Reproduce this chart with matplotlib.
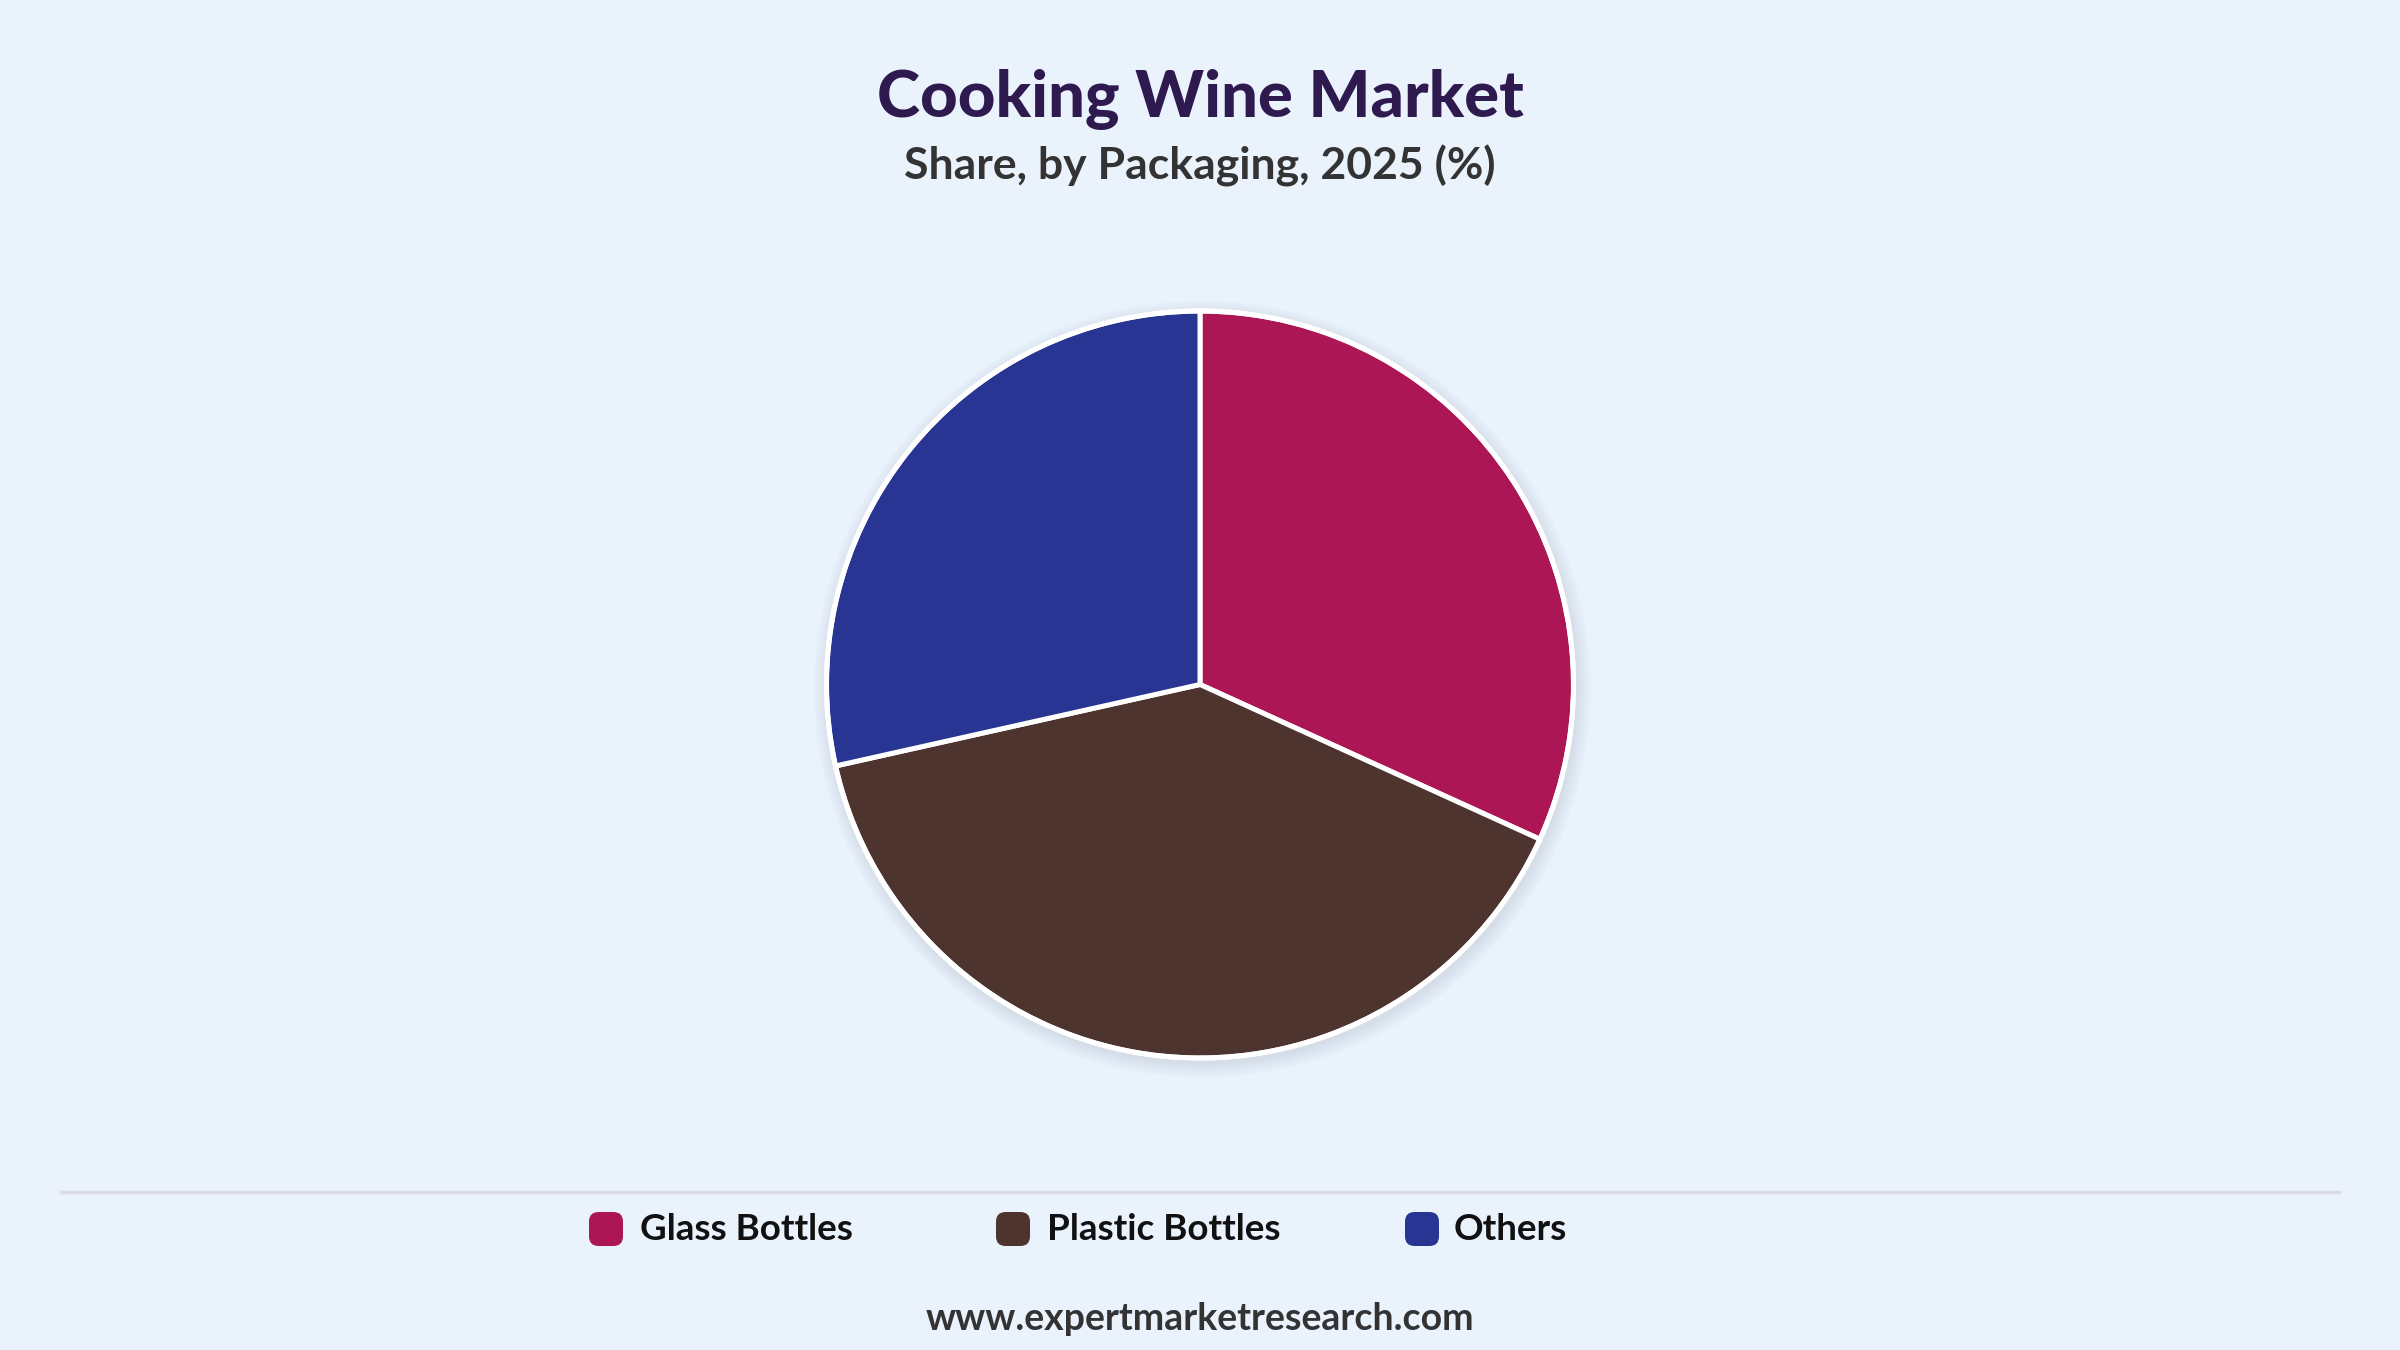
import matplotlib
matplotlib.use("Agg")
import matplotlib.pyplot as plt
from matplotlib.patches import FancyBboxPatch, Circle
from matplotlib.lines import Line2D

categories = ["Glass Bottles", "Plastic Bottles", "Others"]
shares = [31.8, 39.7, 28.5]
colors = ["#AD1655", "#4E342E", "#283593"]
title = "Cooking Wine Market"
subtitle = "Share, by Packaging, 2025 (%)"
footer = "www.expertmarketresearch.com"

BG = "#EAF2FC"
W, H = 2400, 1350
fig = plt.figure(figsize=(24, 13.5), dpi=100, facecolor=BG)

# pie axes: center (1200, 684), radius ~373 px
cx, cy, r = 1200, 684.5, 373.5
ax = fig.add_axes([(cx - r - 30) / W, 1 - (cy + r + 30) / H, (2 * r + 60) / W, (2 * r + 60) / H])
ax.set_facecolor("none")
ax.set_aspect("equal")
ax.axis("off")

# soft shadow
for i in range(10):
    ax.add_patch(Circle((0.006, -0.012), 1.0 + 0.004 * (i + 1), color="#a6b2c2",
                        alpha=0.03, lw=0, zorder=0))

ax.pie(shares, colors=colors, startangle=90, counterclock=False, radius=1.0,
       wedgeprops=dict(edgecolor="white", linewidth=3.6), normalize=True)
ax.add_patch(Circle((0, 0), 1.0, fill=False, edgecolor="white", lw=3.6, zorder=5))
ax.set_xlim(-1 - 30 / r, 1 + 30 / r)
ax.set_ylim(-1 - 30 / r, 1 + 30 / r)

fam = ["Lato", "DejaVu Sans"]
fig.text(0.5, 1 - 100 / H, title, ha="center", va="center", fontsize=47,
         fontweight=900, color="#2E1A4F", family=fam)
fig.text(0.5, 1 - 166 / H, subtitle, ha="center", va="center", fontsize=32,
         fontweight="bold", color="#333333", family=fam)

# separator
fig.add_artist(Line2D([61 / W, 2339 / W], [1 - 1192 / H, 1 - 1192 / H],
                      color="#d9dde3", lw=2.5))

# legend
sq_x = [589, 996, 1405]
tx_x = [640, 1047, 1454]
ly = 1229
sq = 34
for i, name in enumerate(categories):
    fig.add_artist(FancyBboxPatch((sq_x[i] / W, 1 - (ly + sq / 2) / H), sq / W, sq / H,
                                  boxstyle="round,pad=0,rounding_size=0.004",
                                  mutation_aspect=W / H,
                                  facecolor=colors[i], edgecolor="none",
                                  transform=fig.transFigure))
    fig.text(tx_x[i] / W, 1 - ly / H, name, ha="left", va="center", fontsize=26.5,
             fontweight="bold", color="#111111", family=fam)

fig.text(0.5, 1 - 1319 / H, footer, ha="center", va="center", fontsize=27,
         fontweight="bold", color="#333333", family=fam)

fig.savefig("out.png", dpi=100, facecolor=BG)
